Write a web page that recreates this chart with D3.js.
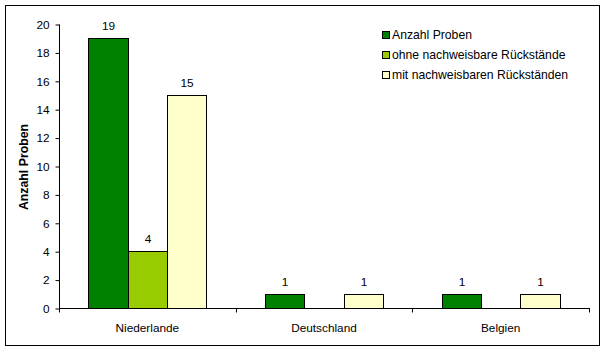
<!DOCTYPE html>
<html><head><meta charset="utf-8">
<script src="https://cdn.jsdelivr.net/npm/d3@7"></script>
<style>body{margin:0;background:#fff}svg{display:block}text{font-family:"Liberation Sans",Arial,sans-serif}</style>
</head><body>
<script>
const categories = ["Niederlande", "Deutschland", "Belgien"];
const seriesNames = ["Anzahl Proben", "ohne nachweisbare Rückstände", "mit nachweisbaren Rückständen"];
const anzahlProben = [19, 1, 1];
const ohneRueckstaende = [4, null, null];
const mitRueckstaenden = [15, 1, 1];
const yTicks = [0, 2, 4, 6, 8, 10, 12, 14, 16, 18, 20];
const colors = ["#008000", "#99CC00", "#FFFFCC"];
const seriesValues = [anzahlProben, ohneRueckstaende, mitRueckstaenden];

(function () {
const W = 606, H = 353;
const FS = 11.8;
const svg = d3.select("body").append("svg").attr("width", W).attr("height", H);
svg.append("rect").attr("x", 5.5).attr("y", 5.5).attr("width", 594).attr("height", 340)
  .attr("fill", "#fff").attr("stroke", "#000").attr("stroke-width", 1);

const pLeft = 59, pRight = 589, pTop = 24, pBottom = 308;
const x0 = d3.scaleBand().domain(categories).range([pLeft, pRight]).paddingInner(0).paddingOuter(0);
const x1 = d3.scaleBand().domain(d3.range(3)).range([0, x0.bandwidth()]).paddingOuter(0.75).paddingInner(0);
const y = d3.scaleLinear().domain([0, 20]).range([pBottom, pTop]);

// bars
categories.forEach((c, ci) => {
  seriesValues.forEach((vals, si) => {
    const v = vals[ci];
    if (v == null) return;
    const bx = Math.round(x0(c) + x1(si)) + 0.5;
    const bw = Math.round(x0(c) + x1(si) + x1.bandwidth()) - Math.round(x0(c) + x1(si));
    svg.append("rect").attr("x", bx).attr("y", Math.round(y(v)) + 0.5)
      .attr("width", bw).attr("height", Math.round(y(0)) - Math.round(y(v)))
      .attr("fill", colors[si]).attr("stroke", "#000").attr("stroke-width", 1);
    svg.append("text").attr("x", bx + bw / 2).attr("y", y(v) - 8)
      .attr("text-anchor", "middle").attr("font-size", FS).text(v);
  });
});

// y axis
const yAxis = d3.axisLeft(y).tickValues(yTicks).tickSize(4).tickPadding(6);
const gy = svg.append("g").attr("transform", `translate(${pLeft + 0.5},0.5)`).call(yAxis);
gy.selectAll("text").attr("font-size", FS).attr("fill", "#000").style("font-family", '"Liberation Sans",Arial,sans-serif');
gy.selectAll("line,path").attr("stroke", "#000");
gy.select(".domain").attr("d", `M0,${pTop}V${pBottom}`);

// x axis
const gx = svg.append("g").attr("transform", `translate(0,${pBottom + 0.5})`);
gx.append("line").attr("x1", pLeft).attr("x2", pRight + 1).attr("stroke", "#000");
const bounds = categories.map(c => x0(c)).concat([x0(categories[2]) + x0.bandwidth()]);
bounds.forEach(b => gx.append("line").attr("x1", Math.round(b) + 0.5).attr("x2", Math.round(b) + 0.5).attr("y1", 0).attr("y2", 4).attr("stroke", "#000"));
categories.forEach(c => gx.append("text").attr("x", x0(c) + x0.bandwidth() / 2).attr("y", 23)
  .attr("text-anchor", "middle").attr("font-size", FS).text(c));

// y title
svg.append("text").attr("transform", `translate(28,${(pTop + pBottom) / 2 + 1}) rotate(-90)`)
  .attr("text-anchor", "middle").attr("font-size", 12.3).attr("font-weight", "bold").text("Anzahl Proben");

// legend
seriesNames.forEach((n, i) => {
  const ly = 35 + i * 20;
  svg.append("rect").attr("x", 382.5).attr("y", ly - 3.5).attr("width", 7).attr("height", 7)
    .attr("fill", colors[i]).attr("stroke", "#000");
  svg.append("text").attr("x", 392).attr("y", ly + 4).attr("font-size", 12.2).text(n);
});
})();
</script>
</body></html>
